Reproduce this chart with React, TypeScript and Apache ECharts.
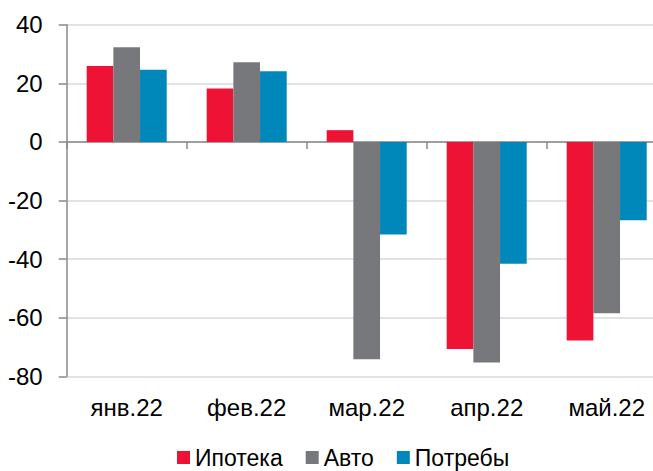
import React, { useEffect, useRef } from "react";
import * as echarts from "echarts";

const categories = ["янв.22", "фев.22", "мар.22", "апр.22", "май.22"];
const ipoteka = [25.9, 18.2, 4.0, -70.7, -67.8];
const avto = [32.3, 27.2, -74.2, -75.3, -58.5];
const potreby = [24.6, 24.1, -31.6, -41.6, -26.7];
const seriesNames = ["Ипотека", "Авто", "Потребы"];
const colors = ["#EE1235", "#77787C", "#0088BB"];

export default function App() {
  const ref = useRef<HTMLDivElement>(null);
  useEffect(() => {
    if (!ref.current) return;
    const chart = echarts.init(ref.current, null, { renderer: "svg" });
    const font = "'Liberation Sans', Arial, sans-serif";
    const values = [ipoteka, avto, potreby];
    chart.setOption({
      animation: false,
      textStyle: { fontFamily: font },
      grid: {
        left: 66.7,
        width: 600,
        top: 24.7,
        bottom: 94.7,
        containLabel: false,
        outerBoundsMode: "none",
      },
      legend: {
        left: 177,
        top: 446,
        padding: 0,
        itemWidth: 13,
        itemHeight: 13,
        itemGap: 23,
        icon: "rect",
        textStyle: { fontSize: 23, lineHeight: 20, color: "#000", fontFamily: font },
        data: seriesNames,
      },
      xAxis: [
        {
          type: "category",
          data: categories,
          position: "bottom",
          axisLine: { onZero: true, lineStyle: { color: "#898989", width: 1.5 } },
          axisTick: { show: true, length: 7, lineStyle: { color: "#898989", width: 1.5 } },
          axisLabel: { show: false },
          splitLine: { show: false },
        },
        {
          type: "category",
          data: categories,
          position: "bottom",
          axisLine: { show: false, onZero: false },
          axisTick: { show: false },
          axisLabel: { show: true, fontSize: 24, color: "#000", margin: 19, fontFamily: font },
          splitLine: { show: false },
        },
      ],
      yAxis: {
        type: "value",
        min: -80,
        max: 40,
        interval: 20,
        axisLine: { show: true, lineStyle: { color: "#898989", width: 1.5 } },
        axisTick: { show: true, length: 8, lineStyle: { color: "#898989", width: 1.5 } },
        axisLabel: { fontSize: 24, color: "#000", margin: 24, fontFamily: font },
        splitLine: { show: true, lineStyle: { color: "#D9D9D9", width: 1.5 } },
      },
      series: seriesNames.map((name, i) => ({
        name,
        type: "bar",
        xAxisIndex: 0,
        data: values[i],
        barGap: "0%",
        barCategoryGap: "33.3%",
        itemStyle: { color: colors[i] },
      })),
    });
    return () => chart.dispose();
  }, []);
  return (
    <div
      ref={ref}
      style={{ position: "fixed", left: 0, top: 0, width: 653, height: 471, background: "#fff" }}
    />
  );
}
